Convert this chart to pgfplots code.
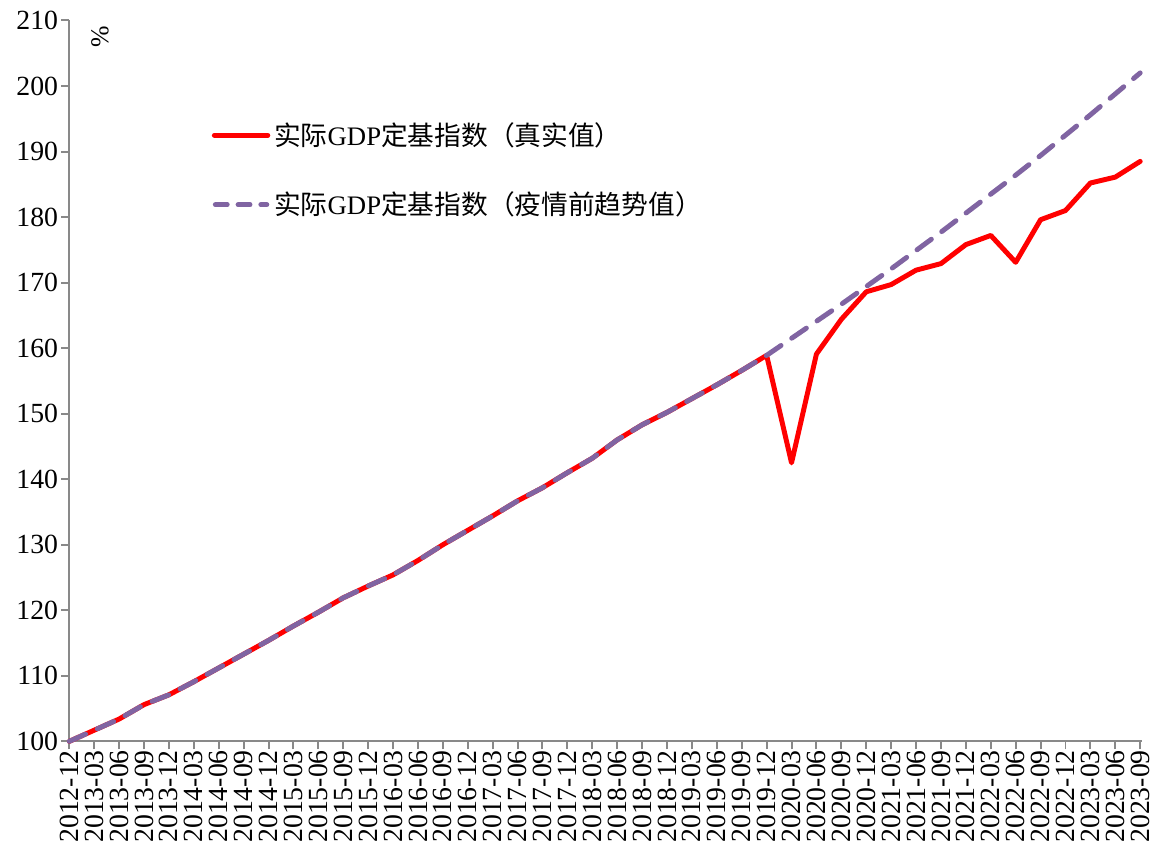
\documentclass[border=0pt]{standalone}
\usepackage{pgfplots}
\pgfplotsset{compat=1.18}
\usepackage{pgfplotstable}
\usepackage{fontspec}
\setmainfont{Liberation Serif}
\newfontfamily\cjk{Noto Sans CJK SC}
\definecolor{gdpred}{HTML}{FF0000}
\definecolor{trendpurple}{HTML}{8064A2}
\definecolor{axisgray}{HTML}{898989}

\pgfplotsset{
  leg solid/.style={legend image code/.code={\draw[##1] (1.25pt,0pt) -- (28.25pt,0pt);}},
  leg dash/.style={legend image code/.code={\draw[##1,dash pattern=on 6pt off 5.5pt] (1.75pt,0pt) -- (27.75pt,0pt);}},
}

% real GDP index, 2012-12 = 100
\pgfplotstableread{
idx real
0 100.0
1 101.7
2 103.4
3 105.6
4 107.1
5 109.1
6 111.2
7 113.3
8 115.4
9 117.6
10 119.7
11 121.9
12 123.7
13 125.4
14 127.6
15 130.0
16 132.2
17 134.4
18 136.7
19 138.7
20 141.0
21 143.2
22 146.0
23 148.3
24 150.2
25 152.3
26 154.4
27 156.6
28 158.9
29 142.5
30 159.1
31 164.4
32 168.6
33 169.7
34 171.9
35 172.9
36 175.8
37 177.2
38 173.1
39 179.6
40 181.0
41 185.2
42 186.1
43 188.5
}\realtab

% pre-pandemic trend
\pgfplotstableread{
idx trend
0 100.0
1 101.7
2 103.4
3 105.6
4 107.1
5 109.1
6 111.2
7 113.3
8 115.4
9 117.6
10 119.7
11 121.9
12 123.7
13 125.4
14 127.6
15 130.0
16 132.2
17 134.4
18 136.7
19 138.7
20 141.0
21 143.2
22 146.0
23 148.3
24 150.2
25 152.3
26 154.4
27 156.6
28 158.9
29 161.5
30 164.1
31 166.7
32 169.4
33 172.1
34 174.9
35 177.7
36 180.6
37 183.5
38 186.4
39 189.4
40 192.5
41 195.6
42 198.8
43 202.0
}\trendtab

\begin{document}
\begin{tikzpicture}
\begin{axis}[
  scale only axis,
  width=542pt, height=364.15pt,
  xmin=0, xmax=43.08,
  ymin=100, ymax=210,
  ytick={100,110,...,210},
  xtick={0,...,43},
  xticklabels={2012-12,2013-03,2013-06,2013-09,2013-12,2014-03,2014-06,2014-09,2014-12,2015-03,2015-06,2015-09,2015-12,2016-03,2016-06,2016-09,2016-12,2017-03,2017-06,2017-09,2017-12,2018-03,2018-06,2018-09,2018-12,2019-03,2019-06,2019-09,2019-12,2020-03,2020-06,2020-09,2020-12,2021-03,2021-06,2021-09,2021-12,2022-03,2022-06,2022-09,2022-12,2023-03,2023-06,2023-09},
  axis x line=bottom, axis y line=left,
  axis line style={-, draw=axisgray, line width=1pt},
  tick style={draw=axisgray, line width=1pt},
  tick align=outside,
  major tick length=4pt,
  tick label style={font=\fontsize{14pt}{16pt}\selectfont},
  /pgf/number format/assume math mode=true,
  xticklabel style={rotate=90, anchor=east, inner sep=0.5pt, outer sep=0pt},
  yticklabel style={inner sep=1.5pt},
  legend style={at={(rel axis cs:0.1329,0.7926)}, anchor=west, draw=none, fill=none,
    inner sep=0pt, outer sep=0pt, row sep=18pt,
    font=\fontsize{13.5pt}{15pt}\selectfont,
    nodes={inner sep=2pt}},
  legend cell align=left,
  clip=false,
]
\addplot[gdpred, line width=2.5pt, line join=round, line cap=round, leg solid]
  table[x=idx, y=real] {\realtab};
\addlegendentry{{\cjk 实际}GDP{\cjk 定基指数（真实值）}}
\addplot[trendpurple, line width=2.5pt, line join=round, line cap=round,
  dash pattern=on 9pt off 6.5pt, leg dash]
  table[x=idx, y=trend] {\trendtab};
\addlegendentry{{\cjk 实际}GDP{\cjk 定基指数（疫情前趋势值）}}
\node[rotate=90, font=\fontsize{13pt}{15pt}\selectfont] at (rel axis cs:0.0286,0.9776) {\%};
\end{axis}
\pgfresetboundingbox
\path[use as bounding box] (-35pt,-59pt) rectangle (552pt,374.5pt);
\end{tikzpicture}
\end{document}
